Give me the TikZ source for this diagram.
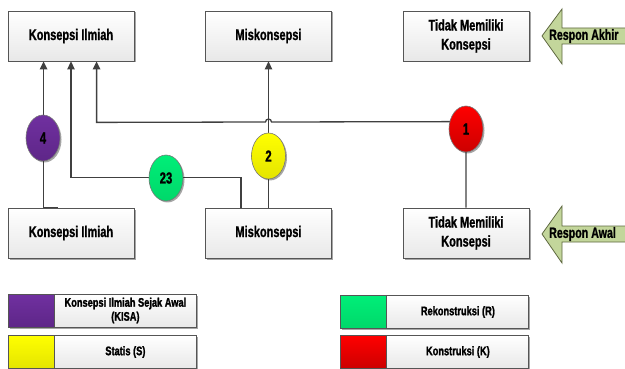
\documentclass[tikz,border=0pt]{standalone}
\usepackage{fontspec}
\newfontfamily\cf{Liberation Sans Bold}[FakeStretch=0.71,FakeBold=1]
\newfontfamily\cfh{Liberation Sans Bold}[FakeStretch=0.74,FakeBold=1.4]
\usetikzlibrary{shapes.geometric,shadows,arrows.meta,calc}
\definecolor{ln}{HTML}{404040}
\definecolor{bd}{HTML}{555555}
\definecolor{boxbot}{HTML}{E8E8E8}
\definecolor{arrfill}{HTML}{C3D69B}
\definecolor{arrbd}{HTML}{5E6840}
\definecolor{kpurple}{HTML}{7030A0}
\definecolor{kpurpled}{HTML}{5E2688}
\definecolor{kgreen}{HTML}{00EE78}
\definecolor{kgreend}{HTML}{00D86A}
\definecolor{kyellow}{HTML}{FFFF00}
\definecolor{kyellowd}{HTML}{E4E400}
\definecolor{kred}{HTML}{FF0000}
\definecolor{kredd}{HTML}{CC0000}
\begin{document}
\begin{tikzpicture}[x=1pt,y=-1pt,
  shad/.style={drop shadow={shadow xshift=1.5pt,shadow yshift=-1.5pt,opacity=0.35,fill=black}},
  box/.style={shad,draw=bd,line width=0.8pt,top color=white,bottom color=boxbot,
    minimum width=126pt,minimum height=50pt,inner sep=0pt,align=center,
    font=\cf\fontsize{15.5}{19}\selectfont},
  oval/.style={ellipse,shad,draw=bd!80,line width=0.6pt,minimum width=34pt,minimum height=46pt,
    inner sep=0pt,font=\cf\fontsize{16}{18}\selectfont},
  conn/.style={draw=ln,line width=1.3pt,-{Triangle[width=7.5pt,length=8pt]}},
  plain/.style={draw=ln,line width=1.3pt},
  resp/.style={draw=arrbd,line width=0.8pt,fill=arrfill,line join=miter},
  resptxt/.style={font=\cf\fontsize{15}{18}\selectfont,inner sep=0pt,anchor=west},
  leg/.style={shad,draw=bd,line width=0.8pt,top color=white,bottom color=boxbot,
    minimum width=188pt,minimum height=33pt,inner sep=0pt},
  sw/.style={draw=bd,line width=0.8pt,minimum width=46pt,minimum height=33pt,inner sep=0pt,anchor=west},
  legtxt/.style={font=\cfh\fontsize{12.5}{14}\selectfont,align=center,inner sep=0pt}
]
\useasboundingbox (0,0) rectangle (625,369);

% boxes
\node[box] (kiT) at (71,36) {Konsepsi Ilmiah};
\node[box] (mkT) at (268.5,36) {Miskonsepsi};
\node[box] (tmT) at (466,36) {Tidak Memiliki\\Konsepsi};
\node[box] (kiB) at (71,233) {Konsepsi Ilmiah};
\node[box] (mkB) at (268.5,233) {Miskonsepsi};
\node[box] (tmB) at (466,233) {Tidak Memiliki\\Konsepsi};

% response arrows
\draw[resp] (542,36) -- (562,9) -- (562,28) -- (626,28) -- (626,44) -- (562,44) -- (562,64) -- cycle;
\node[resptxt] (ra) at (549,36) {Respon Akhir};
\draw[resp] (542,234) -- (562,206) -- (562,226) -- (626,226) -- (626,242) -- (562,242) -- (562,263) -- cycle;
\node[resptxt] (rw) at (549,234) {Respon Awal};

% connectors
\draw[plain] ($(kiB.north west)+(50,0)$) -- ($(kiB.north west)+(36,0)$);
\draw[conn] ($(kiB.north west)+(36,0)$) -- ($(kiT.south west)+(36,0)$);
\draw[conn] ($(mkB.north west)+(36,0)$) -- ($(mkB.north west)+(36,-30)$) -- ($(kiB.north)+(0,-30)$) -- (kiT.south);
\draw[conn] (tmB.north) -- ($(tmB.north)+(0,-86)$) -- (271.5,122) arc (0:-180:3) -- ($(kiT.south west)+(89,61)$) -- ($(kiT.south west)+(89,0)$);
\draw[conn] (mkB.north) -- (mkT.south);

% ovals
\node[oval,top color=kpurple,bottom color=kpurpled] (o4) at (43,138) {4};
\node[oval,top color=kgreen,bottom color=kgreend] (o23) at (166,178) {23};
\node[oval,top color=kyellow,bottom color=kyellowd] (o2) at (268.5,156) {2};
\node[oval,top color=kred,bottom color=kredd] (o1) at (466,129) {1};

% legend
\node[leg] (l1) at (102,310.5) {};
\node[sw,top color=kpurple,bottom color=kpurpled] (s1) at (l1.west) {};
\node[legtxt] (t1) at ($(s1.east)!0.5!(l1.east)$) {Konsepsi Ilmiah Sejak Awal\\(KISA)};

\node[leg] (l2) at (102,352) {};
\node[sw,top color=kyellow,bottom color=kyellowd] (s2) at (l2.west) {};
\node[legtxt] (t2) at ($(s2.east)!0.5!(l2.east)$) {Statis (S)};

\node[leg] (l3) at (434.5,312) {};
\node[sw,top color=kgreen,bottom color=kgreend] (s3) at (l3.west) {};
\node[legtxt] (t3) at ($(s3.east)!0.5!(l3.east)$) {Rekonstruksi (R)};

\node[leg] (l4) at (434.5,352) {};
\node[sw,top color=kred,bottom color=kredd] (s4) at (l4.west) {};
\node[legtxt] (t4) at ($(s4.east)!0.5!(l4.east)$) {Konstruksi (K)};
\end{tikzpicture}
\end{document}
